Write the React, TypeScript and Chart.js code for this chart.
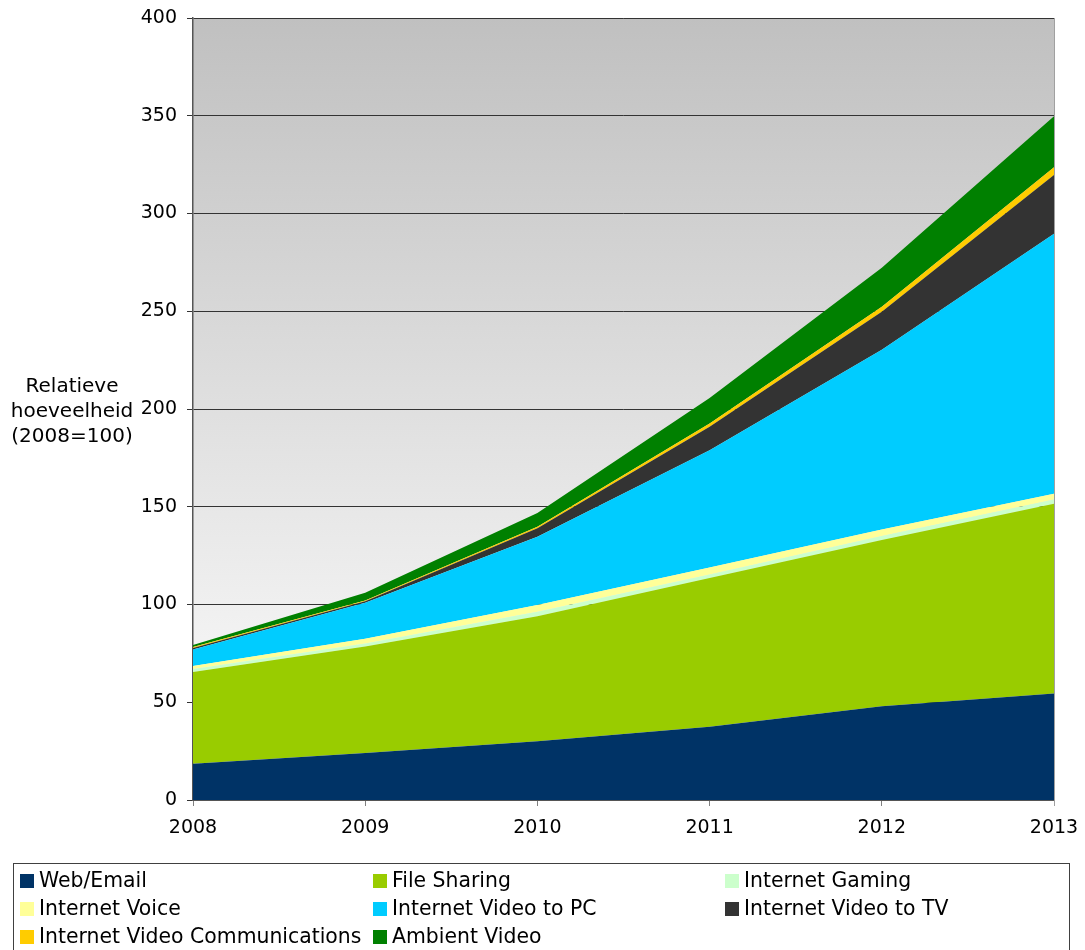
import React, { useEffect, useRef } from "react";
import { Chart, registerables } from "chart.js";

Chart.register(...registerables);

const years = ["2008", "2009", "2010", "2011", "2012", "2013"];
const webEmail = [18.5, 24, 30, 37.5, 48, 54.5];
const fileSharing = [47, 54.5, 64, 76, 85, 97];
const internetGaming = [1.5, 1.5, 2.3, 1.8, 2, 2.2];
const internetVoice = [1.5, 2.5, 3.4, 3.6, 3.3, 3];
const videoToPC = [8.5, 18.4, 35, 60, 92, 133];
const videoToTV = [0.7, 0.7, 4.3, 12, 19.5, 30];
const videoComms = [0.5, 0.4, 0.8, 1.7, 2.5, 4];
const ambientVideo = [1.1, 4, 7, 13, 20, 26];

const seriesNames = [
  "Web/Email",
  "File Sharing",
  "Internet Gaming",
  "Internet Voice",
  "Internet Video to PC",
  "Internet Video to TV",
  "Internet Video Communications",
  "Ambient Video",
];
const seriesValues = [
  webEmail,
  fileSharing,
  internetGaming,
  internetVoice,
  videoToPC,
  videoToTV,
  videoComms,
  ambientVideo,
];
const seriesColors = [
  "#003366",
  "#99cc00",
  "#ccffcc",
  "#ffff99",
  "#00ccff",
  "#333333",
  "#ffcc00",
  "#008000",
];
const titleLines = ["Relatieve", "hoeveelheid", "(2008=100)"];

const FONT = "'DejaVu Sans', Verdana, sans-serif";

const bgPlugin = {
  id: "bgGradient",
  beforeDraw(chart: any) {
    const { ctx, chartArea } = chart;
    const g = ctx.createLinearGradient(0, chartArea.top, 0, chartArea.bottom);
    g.addColorStop(0, "#c0c0c0");
    g.addColorStop(1, "#ffffff");
    ctx.save();
    ctx.fillStyle = g;
    ctx.fillRect(chartArea.left, chartArea.top, chartArea.right - chartArea.left, chartArea.bottom - chartArea.top);
    ctx.restore();
  },
  afterDraw(chart: any) {
    const { ctx, chartArea } = chart;
    ctx.save();
    // right border
    ctx.strokeStyle = "#a0a0a0";
    ctx.lineWidth = 1;
    ctx.beginPath();
    ctx.moveTo(chartArea.right + 0.5, chartArea.top);
    ctx.lineTo(chartArea.right + 0.5, chartArea.bottom + 6);
    ctx.stroke();

    // y axis title
    ctx.fillStyle = "#000";
    ctx.font = `20px ${FONT}`;
    ctx.textAlign = "center";
    ctx.textBaseline = "alphabetic";
    titleLines.forEach((t, i) => ctx.fillText(t, 72, 392 + i * 25));

    // legend
    ctx.font = `20.4px ${FONT}`;
    ctx.strokeStyle = "#404040";
    ctx.lineWidth = 1;
    ctx.strokeRect(13.5, 863.5, 1056, 100);
    const colX = [20, 373, 725];
    chart.data.datasets.forEach((ds: any, i: number) => {
      const col = i % 3;
      const row = Math.floor(i / 3);
      const x = colX[col];
      const y = 874 + row * 28;
      ctx.fillStyle = ds.backgroundColor;
      ctx.fillRect(x, y, 14, 14);
      ctx.fillStyle = "#000";
      ctx.textAlign = "left";
      ctx.fillText(ds.label, x + 19, y + 13);
    });
    ctx.restore();
  },
};

export default function App() {
  const ref = useRef<HTMLCanvasElement>(null);
  useEffect(() => {
    if (!ref.current) return;
    const chart = new Chart(ref.current, {
      type: "line",
      data: {
        labels: years,
        datasets: seriesNames.map((name, i) => ({
          label: name,
          data: seriesValues[i],
          backgroundColor: seriesColors[i],
          borderColor: seriesColors[i],
          borderWidth: 0,
          pointRadius: 0,
          tension: 0,
          fill: i === 0 ? "origin" : "-1",
        })),
      },
      options: {
        responsive: false,
        animation: false,
        layout: { padding: { top: 18, right: 31, left: 0, bottom: 0 } },
        plugins: { legend: { display: false }, tooltip: { enabled: false } },
        scales: {
          x: {
            type: "category",
            offset: false,
            afterFit: (s: any) => {
              s.height = 150;
              s.paddingLeft = 0;
              s.paddingRight = 0;
            },
            grid: { display: true, drawOnChartArea: false, drawTicks: true, tickLength: 6, color: "#808080" },
            border: { color: "#555555", width: 1 },
            ticks: { color: "#000", font: { family: FONT, size: 19 }, padding: 11, maxRotation: 0 },
          },
          y: {
            stacked: true,
            min: 0,
            max: 400,
            afterFit: (s: any) => {
              s.width = 193;
              s.paddingTop = 0;
              s.paddingBottom = 0;
            },
            grid: { color: "#333333", drawTicks: true, tickLength: 6, lineWidth: 1 },
            border: { color: "#555555", width: 1.5 },
            ticks: { stepSize: 50, color: "#000", font: { family: FONT, size: 19 }, padding: 10 },
          },
        },
      },
      plugins: [bgPlugin],
    } as any);
    return () => chart.destroy();
  }, []);
  return (
    <div style={{ position: "absolute", left: 0, top: 0, width: 1085, height: 950, background: "#fff" }}>
      <canvas ref={ref} width={1085} height={950} style={{ display: "block" }} />
    </div>
  );
}
